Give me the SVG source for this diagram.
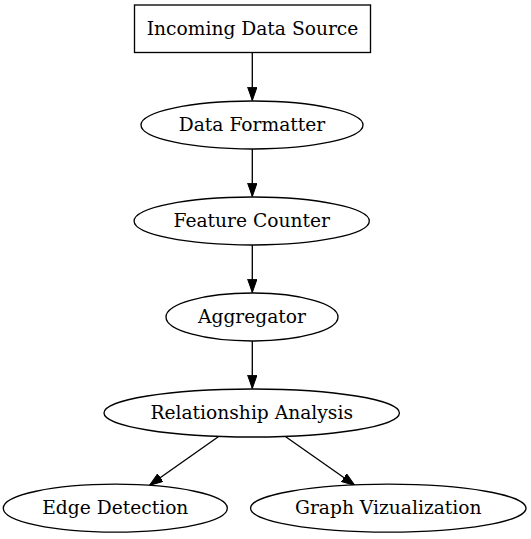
<svg xmlns="http://www.w3.org/2000/svg" width="531" height="539" viewBox="0 0 531 539">
<style>
.n{fill:#fff;stroke:#000;stroke-width:1.33}
.t{font-family:"DejaVu Serif",serif;font-size:18.67px;text-anchor:middle;fill:#000}
.e{stroke:#000;stroke-width:1.33;fill:none;marker-end:url(#ah)}
</style>
<defs>
<marker id="ah" markerUnits="userSpaceOnUse" markerWidth="14" markerHeight="10" refX="13.3" refY="4.67" orient="auto" viewBox="0 0 14 10">
<path d="M0,0 L13.3,4.67 L0,9.33 z" fill="#000" stroke="#000" stroke-width="1"/>
</marker>
</defs>
<rect width="531" height="539" fill="#fff"/>
<g id="connectors">
<line class="e" x1="252.3" y1="53" x2="252.3" y2="100.5"/>
<line class="e" x1="252.3" y1="149" x2="252.3" y2="196.5"/>
<line class="e" x1="252.3" y1="245" x2="252.3" y2="292.5"/>
<line class="e" x1="252.3" y1="341" x2="252.3" y2="388.5"/>
<line class="e" x1="218.3" y1="436.7" x2="149.5" y2="485.3"/>
<line class="e" x1="285.7" y1="436.7" x2="354.8" y2="485.3"/>
</g>
<g id="incoming">
<rect class="n" x="134.5" y="5" width="236" height="47.5"/>
<text class="t" x="252.5" y="34.5">Incoming Data Source</text>
</g>
<g id="formatter">
<ellipse class="n" cx="252" cy="125" rx="111" ry="24"/>
<text class="t" x="252" y="130.6">Data Formatter</text>
</g>
<g id="counter">
<ellipse class="n" cx="251.7" cy="221" rx="117.6" ry="24"/>
<text class="t" x="251.7" y="226.6">Feature Counter</text>
</g>
<g id="aggregator">
<ellipse class="n" cx="252" cy="317" rx="86" ry="24"/>
<text class="t" x="252" y="322.6">Aggregator</text>
</g>
<g id="relationship">
<ellipse class="n" cx="251.7" cy="413" rx="147.7" ry="24"/>
<text class="t" x="251.7" y="418.6">Relationship Analysis</text>
</g>
<g id="edge">
<ellipse class="n" cx="115.3" cy="508.2" rx="112" ry="24"/>
<text class="t" x="115.3" y="513.8">Edge Detection</text>
</g>
<g id="graphviz">
<ellipse class="n" cx="388.3" cy="508.2" rx="137.7" ry="24"/>
<text class="t" x="388.3" y="513.8">Graph Vizualization</text>
</g>
</svg>
